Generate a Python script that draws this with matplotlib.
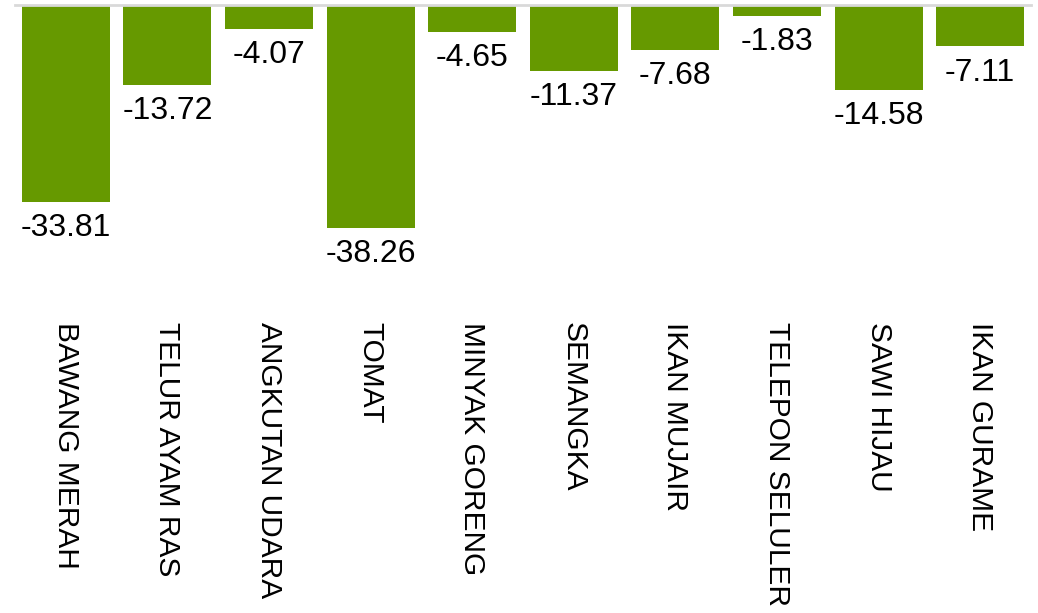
import matplotlib.pyplot as plt

categories = ["BAWANG MERAH", "TELUR AYAM RAS", "ANGKUTAN UDARA", "TOMAT",
              "MINYAK GORENG", "SEMANGKA", "IKAN MUJAIR", "TELEPON SELULER",
              "SAWI HIJAU", "IKAN GURAME"]
values = [-33.81, -13.72, -4.07, -38.26, -4.65, -11.37, -7.68, -1.83, -14.58, -7.11]

plt.rcParams['font.family'] = ['Liberation Sans Narrow', 'Liberation Sans', 'DejaVu Sans']

fig = plt.figure(figsize=(10.38, 6.13), dpi=100)
# axes placed in figure fractions: 0 line at top, labels below
ax = fig.add_axes([15 / 1038, 1 - 300 / 613, 1016 / 1038, 295 / 613])

x = range(len(categories))
bars = ax.bar(x, values, width=0.866, color='#669900')

for b, v in zip(bars, values):
    ax.annotate(f"{v:.2f}", (b.get_x() + b.get_width() / 2, v),
                xytext=(0, -8), textcoords='offset points',
                ha='center', va='top', fontsize=23, color='black')

ax.set_xlim(-0.5, 9.5)
ax.set_ylim(-50.6, 0)
ax.set_xticks(list(x))
ax.set_xticklabels(categories, rotation=270, fontsize=21.5, va='top', ha='center')
ax.tick_params(axis='x', length=0, pad=16)
ax.set_yticks([])
for s in ['left', 'right', 'bottom']:
    ax.spines[s].set_visible(False)
ax.spines['top'].set_color('#d9d9d9')
ax.spines['top'].set_linewidth(2)

fig.savefig('out.png', dpi=100)
